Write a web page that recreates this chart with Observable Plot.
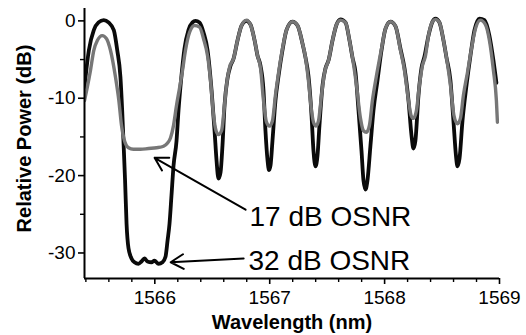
<!DOCTYPE html>
<html>
<head>
<meta charset="utf-8">
<script src="https://cdn.jsdelivr.net/npm/d3@7"></script>
<script src="https://cdn.jsdelivr.net/npm/@observablehq/plot@0.6"></script>
<style>
  html, body { margin: 0; padding: 0; background: #fff; }
  #chart { width: 526px; height: 335px; }
</style>
</head>
<body>
<div id="chart"></div>
<script>
// 32 dB OSNR trace (black)
const wl32 = [1565.388,1565.397,1565.426,1565.469,1565.510,1565.556,1565.597,1565.643,1565.673,1565.701,1565.716,1565.727,1565.741,1565.754,1565.771,1565.797,1565.823,1565.858,1565.884,1565.910,1565.936,1565.971,1565.997,1566.032,1566.067,1566.093,1566.111,1566.128,1566.145,1566.163,1566.189,1566.206,1566.232,1566.258,1566.293,1566.328,1566.354,1566.389,1566.424,1566.459,1566.494,1566.520,1566.537,1566.554,1566.572,1566.589,1566.607,1566.633,1566.659,1566.685,1566.720,1566.755,1566.798,1566.833,1566.868,1566.894,1566.920,1566.946,1566.963,1566.981,1566.994,1567.007,1567.024,1567.050,1567.077,1567.111,1567.146,1567.198,1567.242,1567.285,1567.311,1567.337,1567.364,1567.381,1567.399,1567.416,1567.433,1567.460,1567.486,1567.512,1567.547,1567.581,1567.616,1567.660,1567.694,1567.720,1567.747,1567.773,1567.799,1567.816,1567.834,1567.851,1567.877,1567.903,1567.938,1567.973,1568.008,1568.051,1568.095,1568.138,1568.173,1568.208,1568.234,1568.251,1568.268,1568.295,1568.321,1568.347,1568.382,1568.417,1568.443,1568.477,1568.512,1568.538,1568.573,1568.599,1568.621,1568.634,1568.652,1568.678,1568.713,1568.747,1568.782,1568.826,1568.869,1568.912,1568.947,1568.973];
const db32 = [-8.6,-7.3,-3.8,-1.2,-0.2,0.1,-0.2,-1.2,-3.8,-7.3,-11.6,-15.5,-20.6,-26.2,-29.4,-30.7,-31.2,-31.4,-31.1,-30.7,-31.1,-31.2,-31.0,-31.4,-31.2,-30.5,-28.4,-26.2,-22.6,-18.7,-15.5,-11.6,-7.1,-3.6,-1.2,-0.2,0.0,-0.2,-1.5,-3.8,-9.0,-14.2,-18.0,-20.4,-19.6,-16.1,-10.9,-7.4,-5.8,-4.9,-2.5,-0.6,0.0,-0.5,-2.5,-4.5,-5.8,-9.0,-14.2,-18.0,-19.3,-18.7,-15.5,-10.3,-7.1,-3.8,-1.2,-0.1,-0.6,-2.9,-4.7,-7.1,-12.2,-16.8,-18.8,-17.4,-13.5,-8.3,-6.1,-5.1,-2.5,-0.5,0.2,-0.2,-2.5,-4.7,-6.7,-11.6,-16.8,-20.6,-21.8,-20.6,-16.1,-11.6,-7.7,-3.8,-1.0,-0.1,-0.7,-3.6,-6.1,-10.3,-14.8,-16.5,-15.5,-9.6,-6.1,-4.6,-1.9,-0.1,0.3,-0.2,-2.5,-4.7,-7.7,-12.9,-17.4,-18.8,-17.8,-12.9,-8.3,-4.5,-1.2,0.3,0.1,-1.9,-5.1,-8.0];

// 17 dB OSNR trace (gray)
const wl17 = [1565.388,1565.412,1565.440,1565.469,1565.501,1565.542,1565.580,1565.614,1565.658,1565.687,1565.710,1565.736,1565.771,1565.814,1565.875,1565.945,1566.015,1566.076,1566.111,1566.137,1566.163,1566.189,1566.215,1566.241,1566.267,1566.302,1566.346,1566.389,1566.424,1566.459,1566.485,1566.511,1566.533,1566.554,1566.581,1566.602,1566.624,1566.650,1566.685,1566.720,1566.755,1566.798,1566.833,1566.868,1566.894,1566.920,1566.946,1566.972,1566.998,1567.024,1567.050,1567.077,1567.111,1567.146,1567.198,1567.242,1567.285,1567.311,1567.337,1567.364,1567.381,1567.403,1567.425,1567.451,1567.477,1567.512,1567.547,1567.581,1567.616,1567.660,1567.694,1567.720,1567.755,1567.790,1567.816,1567.842,1567.868,1567.894,1567.929,1567.973,1568.008,1568.051,1568.095,1568.138,1568.173,1568.208,1568.230,1568.251,1568.277,1568.303,1568.329,1568.356,1568.382,1568.417,1568.443,1568.477,1568.512,1568.538,1568.573,1568.603,1568.634,1568.660,1568.686,1568.721,1568.756,1568.791,1568.834,1568.878,1568.912,1568.947,1568.973,1568.982];
const db17 = [-10.3,-8.6,-6.4,-3.8,-2.5,-1.9,-2.3,-3.8,-7.3,-10.3,-13.5,-15.5,-16.4,-16.6,-16.6,-16.5,-16.4,-16.2,-15.8,-15.1,-13.5,-10.9,-8.7,-6.4,-3.8,-1.5,-0.6,-0.8,-2.3,-4.5,-7.7,-12.2,-14.2,-14.7,-14.2,-11.6,-8.3,-6.0,-4.9,-2.5,-0.6,0.1,-0.5,-2.5,-4.5,-6.1,-10.3,-13.1,-13.6,-12.9,-9.6,-6.7,-3.6,-1.2,-0.1,-0.6,-2.9,-4.7,-7.7,-11.6,-13.1,-13.6,-12.9,-9.6,-6.7,-5.1,-2.5,-0.5,0.1,-0.2,-2.5,-4.7,-8.3,-12.6,-14.2,-14.4,-13.5,-10.3,-7.1,-3.6,-1.0,-0.1,-0.7,-3.8,-6.4,-10.3,-12.2,-12.6,-11.6,-8.3,-5.8,-4.5,-1.9,-0.1,0.2,-0.2,-2.5,-4.7,-8.3,-12.2,-13.3,-12.6,-9.6,-6.7,-3.6,-1.0,0.1,-0.5,-2.5,-6.4,-10.3,-13.1];

const xMajor = [1566, 1567, 1568, 1569];
const xMinor = [1565.4,1565.6,1565.8,1566.2,1566.4,1566.6,1566.8,1567.2,1567.4,1567.6,1567.8,1568.2,1568.4,1568.6,1568.8];
const yMajor = [0, -10, -20, -30];
const yMinor = [-5, -15, -25];

const labels = ["17 dB OSNR", "32 dB OSNR"];
const xTitle = "Wavelength (nm)";
const yTitle = "Relative Power (dB)";

const s32 = wl32.map((x, i) => ({x, y: db32[i]}));
const s17 = wl17.map((x, i) => ({x, y: db17[i]}));

const xDom = [1565.388, 1569];
const yDom = [-33.3, 1.6];

const chart = Plot.plot({
  width: 526,
  height: 335,
  marginLeft: 84,
  marginRight: 27,
  marginTop: 8,
  marginBottom: 57,
  style: {fontFamily: "'Liberation Sans', Arial, sans-serif", background: "#fff", color: "#000"},
  x: {domain: xDom},
  y: {domain: yDom},
  marks: [
    Plot.line(s32, {x: "x", y: "y", stroke: "#0a0a0a", strokeWidth: 3.8, curve: "monotone-x", clip: true}),
    Plot.line(s17, {x: "x", y: "y", stroke: "#777", strokeWidth: 3.4, curve: "monotone-x", clip: true}),
    Plot.ruleX([xDom[0]], {stroke: "#000", strokeWidth: 2}),
    Plot.ruleY([yDom[0]], {stroke: "#000", strokeWidth: 2}),
    Plot.axisX(xMajor, {tickSize: 6, tickPadding: 6, fontSize: 19, strokeWidth: 1.6, tickFormat: d => String(d), label: null}),
    Plot.axisX(xMinor, {tickSize: 4, tickFormat: () => "", strokeWidth: 1.4, label: null}),
    Plot.axisY(yMajor, {tickSize: 6, tickPadding: 3, fontSize: 19, strokeWidth: 1.6, tickFormat: d => String(d), label: null}),
    Plot.axisY(yMinor, {tickSize: 4, tickFormat: () => "", strokeWidth: 1.4, label: null}),
    Plot.arrow([0], {x1: 1566.790, y1: -24.4, x2: 1565.998, y2: -17.7, stroke: "#000", strokeWidth: 2, headLength: 11}),
    Plot.arrow([0], {x1: 1566.773, y1: -30.7, x2: 1566.138, y2: -31.2, stroke: "#000", strokeWidth: 2, headLength: 11}),
    Plot.text([labels[0]], {x: 1566.824, y: -25.4, text: d => d, textAnchor: "start", fontSize: 28, fill: "#000"}),
    Plot.text([labels[1]], {x: 1566.815, y: -31.0, text: d => d, textAnchor: "start", fontSize: 28, fill: "#000"}),
    Plot.text([xTitle], {frameAnchor: "bottom", dy: 44, lineAnchor: "middle", textAnchor: "middle", text: d => d, fontSize: 20, fontWeight: "bold", fill: "#000"}),
    Plot.text([yTitle], {frameAnchor: "left", dx: -60, dy: -5, rotate: -90, lineAnchor: "middle", textAnchor: "middle", text: d => d, fontSize: 20, fontWeight: "bold", fill: "#000"})
  ]
});
document.getElementById("chart").appendChild(chart);
</script>
</body>
</html>
